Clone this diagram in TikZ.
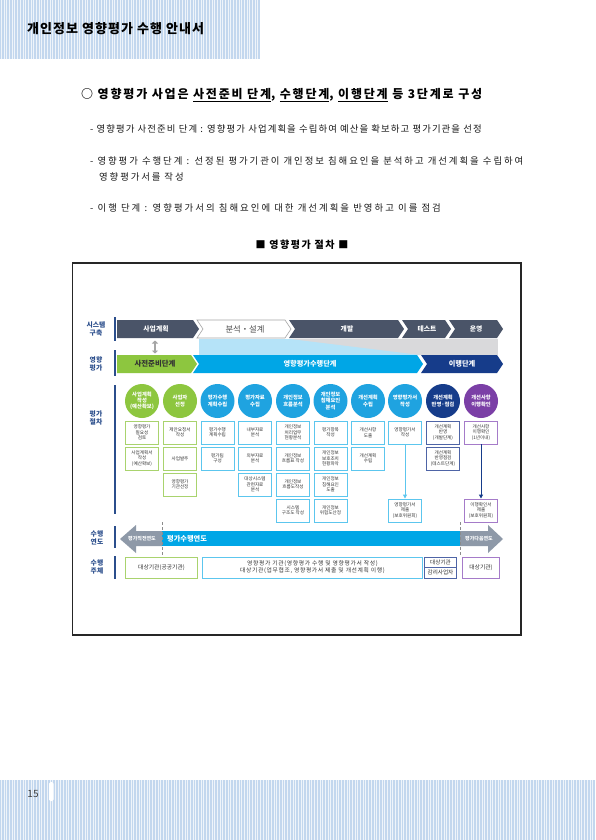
\documentclass[tikz,border=0pt]{standalone}
\usepackage{fontspec}
\setmainfont{Noto Sans CJK KR}
\usetikzlibrary{arrows.meta}
\definecolor{band}{HTML}{C3D7EE}
\definecolor{slate}{HTML}{4A5468}
\definecolor{pgreen}{HTML}{8DC63F}
\definecolor{pblue}{HTML}{1FA3E0}
\definecolor{rowblue}{HTML}{00A6E6}
\definecolor{pnavy}{HTML}{163C8A}
\definecolor{ppurple}{HTML}{7B3FA6}
\definecolor{bgreen}{HTML}{A9D36E}
\definecolor{bblue}{HTML}{5CC6EE}
\definecolor{bnavy}{HTML}{4E64A6}
\definecolor{bpurple}{HTML}{A57BC9}
\definecolor{labblue}{HTML}{2B4E8C}
\definecolor{lightcyan}{HTML}{B5E3F8}
\definecolor{midgray}{HTML}{D9D9DB}
\definecolor{tlgray}{HTML}{8E99A8}
\definecolor{txt}{HTML}{333333}
\begin{document}
\begin{tikzpicture}[x=1pt,y=-1pt,
  bodytxt/.style={anchor=west,text=black!90,inner sep=0pt},
  rowlab/.style={font=\bfseries\fontsize{6.8}{7.8}\selectfont,text=labblue,align=center,inner sep=0pt},
  chevtxt/.style={font=\bfseries\fontsize{6.8}{8}\selectfont,text=white,inner sep=0pt},
  circ/.style={circle,minimum size=34pt,inner sep=0pt,text=white,align=center,font=\bfseries\fontsize{5.3}{6.1}\selectfont},
  pbox/.style={draw,line width=0.9pt,fill=white,minimum width=33pt,minimum height=23pt,inner sep=0pt,align=center,text=txt,font=\fontsize{4.6}{5.5}\selectfont},
  agent/.style={draw,line width=0.9pt,fill=white,inner sep=0pt,align=center,text=txt,font=\fontsize{5.8}{7}\selectfont},
  vbar/.style={labblue,line width=1.3pt}
]
\useasboundingbox (0,0) rectangle (595,840);
\fill[white] (0,0) rectangle (595,840);
% header band
\fill[band] (0,0) rectangle (260,59);
\foreach \i in {0,...,95} \draw[white,line width=0.6pt,opacity=0.75] ({1.2+\i*2.7},0) -- ++(0,59);
% footer band
\fill[band] (0,780) rectangle (595,840);
\foreach \i in {0,...,220} \draw[white,line width=0.6pt,opacity=0.75] ({1.2+\i*2.7},780) -- ++(0,60);
\fill[white,rounded corners=1.5pt] (49,782) rectangle (53.5,801);
\node[font=\fontsize{10}{12}\selectfont,text=black!75] (pg) at (33,794) {15};

\node[anchor=west,font=\bfseries\fontsize{13}{15}\selectfont\addfontfeature{LetterSpace=8},inner sep=0pt] (title) at (27,29) {개인정보 영향평가 수행 안내서};

\node[anchor=west,font=\bfseries\fontsize{12}{14}\selectfont\addfontfeature{LetterSpace=15},inner sep=0pt] (head) at (81,95) {○ 영향평가 사업은 \underline{사전준비 단계}, \underline{수행단계}, \underline{이행단계} 등 3단계로 구성};

\node[bodytxt,font=\fontsize{9.4}{11}\selectfont\addfontfeature{LetterSpace=11.6}] (l1) at (90,129) {- 영향평가 사전준비 단계 : 영향평가 사업계획을 수립하여 예산을 확보하고 평가기관을 선정};
\node[bodytxt,font=\fontsize{9.4}{11}\selectfont\addfontfeature{LetterSpace=20.8}] (l2) at (90,161) {- 영향평가 수행단계 : 선정된 평가기관이 개인정보 침해요인을 분석하고 개선계획을 수립하여};
\node[bodytxt,font=\fontsize{9.4}{11}\selectfont\addfontfeature{LetterSpace=20}] (l2b) at (99,177) {영향평가서를 작성};
\node[bodytxt,font=\fontsize{9.4}{11}\selectfont\addfontfeature{LetterSpace=21.6}] (l3) at (90,208) {- 이행 단계 : 영향평가서의 침해요인에 대한 개선계획을 반영하고 이를 점검};

\node[font=\bfseries\fontsize{10}{12}\selectfont\addfontfeature{LetterSpace=15}] (cap) at (302,245) {■ 영향평가 절차 ■};

% frame
\draw[line width=1.3pt,black!85] (72.5,263) rectangle (521,635);

% row labels
\node[rowlab] (rl1) at (96,329) {시스템\\구축};
\draw[vbar] (115,317) -- (115,341);
\node[rowlab] (rl2) at (96,364) {영향\\평가};
\draw[vbar] (115,350) -- (115,376);
\node[rowlab] (rl3) at (96,418) {평가\\절차};
\draw[vbar] (115,385) -- (115,514);
\node[rowlab] (rl4) at (97,538) {수행\\연도};
\draw[vbar] (115,526) -- (115,548);
\node[rowlab] (rl5) at (97,567) {수행\\주체};
\draw[vbar] (115,556) -- (115,579);

% row 1 chevrons
\fill[slate] (117,320) -- (193,320) -- (199,329) -- (193,338) -- (117,338) -- cycle;
\node[chevtxt] (s1) at (156,329) {사업계획};
\draw[gray!70,line width=0.6pt,fill=white] (197,320) -- (285,320) -- (291,329) -- (285,338) -- (197,338) -- (203,329) -- cycle;
\node[font=\fontsize{8.3}{9}\selectfont,text=black!70,inner sep=0pt] (s2) at (245,329) {분석・설계};
\fill[slate] (289,320) -- (398,320) -- (404,329) -- (398,338) -- (289,338) -- (295,329) -- cycle;
\node[chevtxt] (s3) at (347,329) {개발};
\fill[slate] (402,320) -- (445,320) -- (451,329) -- (445,338) -- (402,338) -- (408,329) -- cycle;
\node[chevtxt] (s4) at (427,329) {테스트};
\fill[slate] (449,320) -- (497,320) -- (503,329) -- (497,338) -- (449,338) -- (455,329) -- cycle;
\node[chevtxt] (s5) at (476,329) {운영};

% middle band
\fill[midgray] (199,339) rectangle (498,355);
\fill[lightcyan] (199,339) -- (290,339) -- (420,355) -- (199,355) -- cycle;
\coordinate (da1) at (155,340.5);
\coordinate (da2) at (155,353.5);
\draw[{Triangle[width=6pt,length=3pt]}-{Triangle[width=6pt,length=3pt]},line width=2.2pt,color=black!35] (da1) -- (da2);

% row 2 chevrons
\fill[pgreen] (117,355) -- (191,355) -- (197,364) -- (191,373) -- (117,373) -- cycle;
\node[chevtxt,text=black!80,font=\bfseries\fontsize{7.4}{8}\selectfont] (p1) at (155,364) {사전준비단계};
\fill[rowblue] (193,355) -- (417,355) -- (423,364) -- (417,373) -- (193,373) -- (199,364) -- cycle;
\node[chevtxt,font=\bfseries\fontsize{7.2}{8}\selectfont] (p2) at (310,364) {영향평가수행단계};
\fill[pnavy] (421,355) -- (497,355) -- (503,364) -- (497,373) -- (421,373) -- (427,364) -- cycle;
\node[chevtxt,font=\bfseries\fontsize{7.2}{8}\selectfont] (p3) at (462,364) {이행단계};

% circles
\node[circ,fill=pgreen] (c1) at (142,401) {사업계획\\작성\\(예산확보)};
\node[circ,fill=pgreen] (c2) at (180,401) {사업자\\선정};
\node[circ,fill=pblue] (c3) at (217.5,401) {평가수행\\계획수립};
\node[circ,fill=pblue] (c4) at (255,401) {평가자료\\수집};
\node[circ,fill=pblue] (c5) at (293,401) {개인정보\\흐름분석};
\node[circ,fill=pblue] (c6) at (330.5,401) {개인정보\\침해요인\\분석};
\node[circ,fill=pblue] (c7) at (368,401) {개선계획\\수립};
\node[circ,fill=pblue] (c8) at (405,401) {영향평가서\\작성};
\node[circ,fill=pnavy] (c9) at (443,401) {개선계획\\반영·점검};
\node[circ,fill=ppurple] (c10) at (481,401) {개선사항\\이행확인};

% boxes col 1
\node[pbox,draw=bgreen] (b1a) at (142,432.5) {영향평가\\필요성\\검토};
\node[pbox,draw=bgreen] (b1b) at (142,458.5) {사업계획서\\작성\\(예산확보)};
% col 2
\node[pbox,draw=bgreen] (b2a) at (180,432.5) {제안요청서\\작성};
\node[pbox,draw=bgreen] (b2b) at (180,458.5) {사업발주};
\node[pbox,draw=bgreen] (b2c) at (180,484.5) {영향평가\\기관선정};
% col 3
\node[pbox,draw=bblue] (b3a) at (217.5,432.5) {평가수행\\계획수립};
\node[pbox,draw=bblue] (b3b) at (217.5,458.5) {평가팀\\구성};
% col 4
\node[pbox,draw=bblue] (b4a) at (255,432.5) {내부자료\\분석};
\node[pbox,draw=bblue] (b4b) at (255,458.5) {외부자료\\분석};
\node[pbox,draw=bblue] (b4c) at (255,484.5) {대상시스템\\관련자료\\분석};
% col 5
\node[pbox,draw=bblue] (b5a) at (293,432.5) {개인정보\\처리업무\\현황분석};
\node[pbox,draw=bblue] (b5b) at (293,458.5) {개인정보\\흐름표 작성};
\node[pbox,draw=bblue] (b5c) at (293,484.5) {개인정보\\흐름도작성};
\node[pbox,draw=bblue] (b5d) at (293,510.5) {시스템\\구조도 작성};
% col 6
\node[pbox,draw=bblue] (b6a) at (330.5,432.5) {평가항목\\작성};
\node[pbox,draw=bblue] (b6b) at (330.5,458.5) {개인정보\\보호조치\\현황파악};
\node[pbox,draw=bblue] (b6c) at (330.5,484.5) {개인정보\\침해요인\\도출};
\node[pbox,draw=bblue] (b6d) at (330.5,510.5) {개인정보\\위험도산정};
% col 7
\node[pbox,draw=bblue] (b7a) at (368,432.5) {개선사항\\도출};
\node[pbox,draw=bblue] (b7b) at (368,458.5) {개선계획\\수립};
% col 8
\node[pbox,draw=bblue] (b8a) at (405,432.5) {영향평가서\\작성};
\node[pbox,draw=bblue] (b8d) at (405,510.5) {영향평가서\\제출\\(보호위원회)};
% col 9
\node[pbox,draw=bnavy] (b9a) at (443,432.5) {개선계획\\반영\\(개발단계)};
\node[pbox,draw=bnavy] (b9b) at (443,458.5) {개선계획\\반영점검\\(테스트단계)};
% col 10
\node[pbox,draw=bpurple] (b10a) at (481,432.5) {개선사항\\이행확인\\(1년이내)};
\node[pbox,draw=bpurple] (b10d) at (481,510.5) {이행확인서\\제출\\(보호위원회)};
\draw[-{Triangle[width=4pt,length=4pt]},bblue,line width=0.9pt] (b8a.south) -- (b8d.north);
\draw[-{Triangle[width=4pt,length=4pt]},pnavy,line width=0.9pt] (b10a.south) -- (b10d.north);

% timeline
\fill[tlgray] (120,539) -- (136,525) -- (136,531) -- (162,531) -- (162,546) -- (136,546) -- (136,553) -- cycle;
\node[font=\bfseries\fontsize{5}{6}\selectfont,text=white,inner sep=0pt] (t1) at (142,538.5) {평가직전연도};
\fill[rowblue] (162,531) rectangle (460,546);
\node[anchor=west,font=\bfseries\fontsize{7.2}{8}\selectfont,text=white,inner sep=0pt] (t2) at (167,538.5) {평가수행연도};
\fill[tlgray] (460,531) -- (488,531) -- (488,525) -- (503,539) -- (488,553) -- (488,546) -- (460,546) -- cycle;
\node[font=\bfseries\fontsize{5}{6}\selectfont,text=white,inner sep=0pt] (t3) at (479,538.5) {평가다음연도};
\coordinate (dl1a) at (162,522);
\coordinate (dl1b) at (162,555);
\coordinate (dl2a) at (460,522);
\coordinate (dl2b) at (460,555);
\draw[densely dashed,black!45,line width=0.6pt] (dl1a) -- (dl1b);
\draw[densely dashed,black!45,line width=0.6pt] (dl2a) -- (dl2b);

% agents
\node[agent,draw=bgreen,minimum width=72pt,minimum height=21pt] (a1) at (161.5,567.5) {대상기관(공공기관)};
\node[agent,draw=bblue,minimum width=220pt,minimum height=21pt,font=\fontsize{5.8}{7}\selectfont\addfontfeature{LetterSpace=11}] (a2) at (312.5,567.5) {영향평가 기관(영향평가 수행 및 영향평가서 작성)\\대상기관(업무협조, 영향평가서 제출 및 개선계획 이행)};
\node[agent,draw=bnavy,minimum width=32pt,minimum height=10.3pt,font=\fontsize{5.6}{6.5}\selectfont] (a3) at (440.5,562.2) {대상기관};
\node[agent,draw=bnavy,minimum width=32pt,minimum height=10.3pt,font=\fontsize{5.6}{6.5}\selectfont] (a4) at (440.5,572.8) {감리사업자};
\node[agent,draw=bpurple,minimum width=37pt,minimum height=21pt] (a5) at (481,567.5) {대상기관)};
\end{tikzpicture}
\end{document}
